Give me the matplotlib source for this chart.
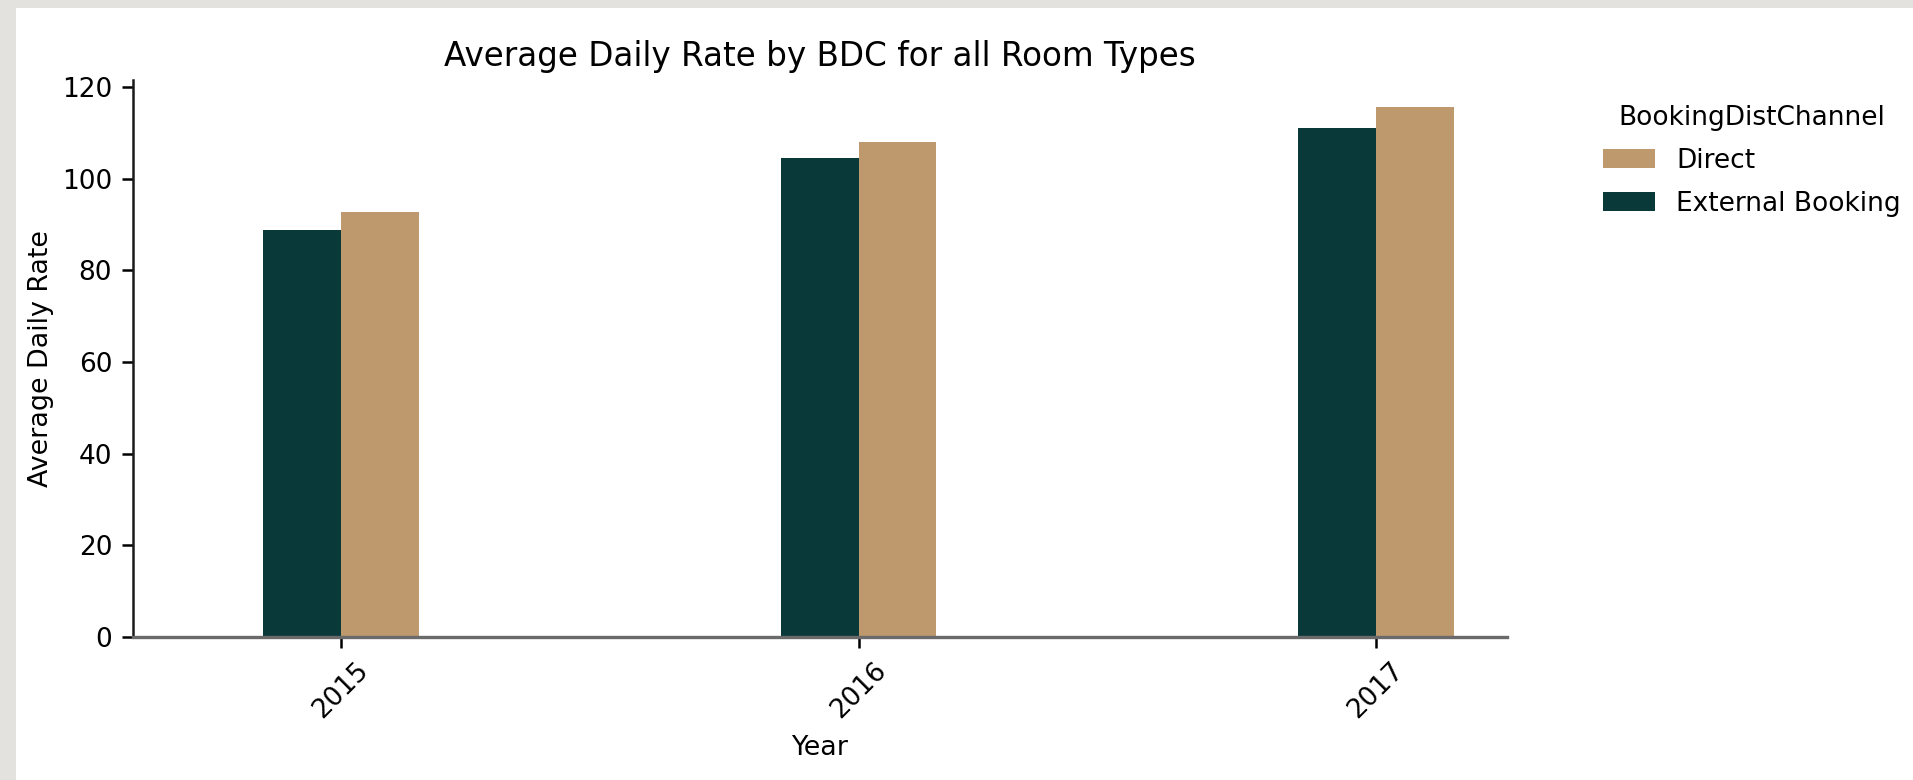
import matplotlib
matplotlib.use("Agg")
import matplotlib.pyplot as plt
from matplotlib.patches import Rectangle, Patch
import numpy as np

years = [2015, 2016, 2017]
external_adr = [88.7, 104.5, 111.0]
direct_adr = [92.8, 107.9, 115.7]
channels = ["Direct", "External Booking"]
colors = {"Direct": "#bf996e", "External Booking": "#093939"}

DPI = 200
fig = plt.figure(figsize=(1913 / DPI, 780 / DPI), dpi=DPI)
fig.patch.set_facecolor("white")

# light grey frame along top and left edges
fig.patches.append(Rectangle((0, 1 - 8 / 780), 1, 8 / 780, transform=fig.transFigure,
                             facecolor="#e3e2de", edgecolor="none", zorder=-1))
fig.patches.append(Rectangle((0, 0), 16 / 1913, 1, transform=fig.transFigure,
                             facecolor="#e3e2de", edgecolor="none", zorder=-1))

ax = fig.add_axes([133 / 1913, 1 - 637 / 780, (1507 - 133) / 1913, (637 - 80) / 780])

width = 0.15
x = np.array(years, dtype=float)
ax.bar(x - width / 2, external_adr, width, color=colors["External Booking"], label="External Booking")
ax.bar(x + width / 2, direct_adr, width, color=colors["Direct"], label="Direct")

ax.set_xlim(2014.598, 2017.253)
ax.set_ylim(0, 121.5)
ax.set_xticks(years)
ax.set_xticklabels([str(y) for y in years], rotation=45)
ax.set_yticks(np.arange(0, 121, 20))
ax.tick_params(labelsize=9.5, length=4, width=0.9)

for s in ("top", "right"):
    ax.spines[s].set_visible(False)
ax.spines["left"].set_linewidth(0.9)
ax.spines["left"].set_color("#1a1a1a")
ax.spines["bottom"].set_linewidth(1.2)
ax.spines["bottom"].set_color("#6a6a6a")

ax.set_title("Average Daily Rate by BDC for all Room Types", fontsize=11.75, pad=5)
ax.set_xlabel("Year", fontsize=9.7)
ax.set_ylabel("Average Daily Rate", fontsize=9.7, labelpad=3)

handles = [Patch(facecolor=colors[c], edgecolor="none") for c in channels]
fig.legend(handles, channels, title="BookingDistChannel", loc="upper left",
           bbox_to_anchor=(1592 / 1913, 1 - 94 / 780), frameon=False,
           fontsize=9.5, title_fontsize=9.5, handlelength=2.0, handleheight=0.7,
           labelspacing=0.65, borderaxespad=0)

fig.savefig("out.png", dpi=DPI)
